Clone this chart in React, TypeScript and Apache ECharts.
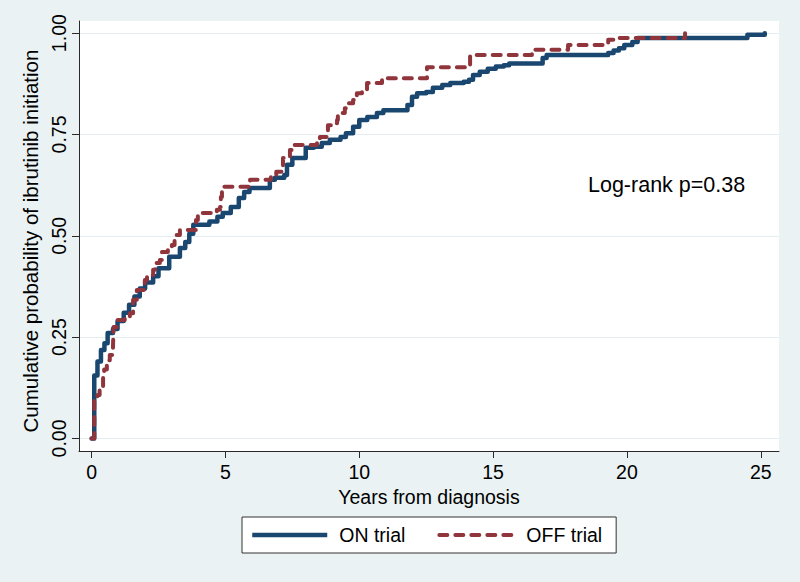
import React, { useEffect, useRef } from 'react';
import * as echarts from 'echarts';

const onTrialYears = [0, 0.1, 0.22, 0.35, 0.48, 0.6, 0.8, 0.97, 1.2, 1.4, 1.6, 1.8, 2.0, 2.3, 2.5, 2.9, 3.3, 3.5, 3.65, 3.8, 4.4, 4.7, 4.9, 5.2, 5.5, 5.7, 5.9, 6.66, 6.85, 7.2, 7.3, 7.5, 8.0, 8.3, 8.6, 8.9, 9.3, 9.5, 9.77, 10.0, 10.3, 10.66, 10.9, 11.8, 11.97, 12.16, 12.5, 12.75, 13.1, 13.4, 13.9, 14.1, 14.25, 14.5, 14.8, 15.1, 15.4, 15.6, 16.85, 17.0, 19.3, 19.5, 19.7, 19.9, 20.2, 20.4, 24.5, 25.15];
const onTrialProb = [0, 0.155, 0.19, 0.218, 0.235, 0.26, 0.27, 0.29, 0.31, 0.33, 0.35, 0.37, 0.385, 0.4, 0.42, 0.448, 0.47, 0.485, 0.505, 0.527, 0.535, 0.547, 0.556, 0.571, 0.593, 0.608, 0.618, 0.638, 0.643, 0.65, 0.675, 0.692, 0.717, 0.72, 0.729, 0.737, 0.744, 0.753, 0.769, 0.786, 0.793, 0.803, 0.81, 0.823, 0.843, 0.852, 0.855, 0.865, 0.872, 0.877, 0.88, 0.885, 0.897, 0.905, 0.912, 0.918, 0.921, 0.925, 0.939, 0.946, 0.951, 0.957, 0.963, 0.971, 0.978, 0.988, 0.996, 1.0];

const offTrialYears = [0, 0.1, 0.22, 0.3, 0.43, 0.47, 0.57, 0.68, 0.8, 0.82, 0.97, 1.24, 1.43, 1.55, 1.69, 1.99, 2.07, 2.3, 2.37, 2.55, 2.63, 2.85, 3.0, 3.1, 3.3, 3.9, 3.97, 4.68, 4.8, 4.83, 4.87, 5.92, 6.7, 6.9, 7.1, 7.15, 7.41, 7.48, 8.42, 8.53, 8.79, 8.83, 8.98, 9.17, 9.2, 9.46, 9.58, 9.77, 9.91, 10.1, 10.29, 10.85, 10.96, 12.53, 14.14, 16.45, 17.8, 19.3, 19.5, 22.17];
const offTrialProb = [0, 0.1, 0.107, 0.127, 0.152, 0.17, 0.193, 0.206, 0.226, 0.275, 0.292, 0.297, 0.309, 0.342, 0.366, 0.391, 0.403, 0.416, 0.433, 0.44, 0.46, 0.473, 0.477, 0.502, 0.514, 0.539, 0.556, 0.564, 0.571, 0.596, 0.621, 0.638, 0.65, 0.658, 0.667, 0.692, 0.712, 0.724, 0.729, 0.744, 0.753, 0.773, 0.778, 0.786, 0.803, 0.815, 0.827, 0.835, 0.852, 0.86, 0.877, 0.885, 0.889, 0.916, 0.946, 0.959, 0.971, 0.984, 0.988, 1.0];

const xTicks = [0, 5, 10, 15, 20, 25];
const yTicks = [0, 0.25, 0.5, 0.75, 1];
const seriesNames = ['ON trial', 'OFF trial'];
const annotationText = 'Log-rank p=0.38';
const xTitle = 'Years from diagnosis';
const yTitle = 'Cumulative probability of ibrutinib initiation';

const FONT = '"Liberation Sans", Arial, Helvetica, sans-serif';
const ON_COLOR = '#1a476f';
const OFF_COLOR = '#90353b';

export default function App() {
  const ref = useRef<HTMLDivElement>(null);

  useEffect(() => {
    if (!ref.current) return;
    const chart = echarts.init(ref.current, null, { renderer: 'svg' });
    const onData = onTrialYears.map((x, i) => [x, onTrialProb[i]]);
    const offData = offTrialYears.map((x, i) => [x, offTrialProb[i]]);
    const axisColor = '#2a2a2a';

    chart.setOption({
      animation: false,
      backgroundColor: '#eaf2f3',
      textStyle: { fontFamily: FONT },
      grid: {
        left: 79,
        right: 21,
        top: 21,
        bottom: 131,
        show: true,
        backgroundColor: '#ffffff',
        borderWidth: 0,
      },
      xAxis: {
        type: 'value',
        min: -0.47,
        max: 25.68,
        name: xTitle,
        nameLocation: 'middle',
        nameGap: 32,
        nameTextStyle: { fontSize: 19.5, color: '#000', fontFamily: FONT },
        axisLine: { show: true, onZero: false, lineStyle: { color: axisColor, width: 1 } },
        axisTick: { show: true, customValues: xTicks, length: 7, lineStyle: { color: axisColor, width: 1 } },
        axisLabel: { customValues: xTicks, fontSize: 19.5, color: '#000', margin: 11, fontFamily: FONT },
        splitLine: { show: false },
      },
      yAxis: {
        type: 'value',
        min: -0.031,
        max: 1.03,
        name: yTitle,
        nameLocation: 'middle',
        nameGap: 37,
        nameRotate: 90,
        nameTextStyle: { fontSize: 20.5, color: '#000', fontFamily: FONT, padding: [0, 10, 0, 0] },
        axisLine: { show: true, onZero: false, lineStyle: { color: axisColor, width: 1 } },
        axisTick: { show: true, customValues: yTicks, length: 7, lineStyle: { color: axisColor, width: 1 } },
        axisLabel: {
          customValues: yTicks,
          rotate: 90,
          fontSize: 19.5,
          color: '#000',
          margin: 10,
          fontFamily: FONT,
          formatter: (v: number) => v.toFixed(2),
        },
        splitLine: { show: true, lineStyle: { color: '#e4eef1', width: 1.2 } },
      },
      legend: {
        left: 242,
        top: 517,
        orient: 'horizontal',
        backgroundColor: '#ffffff',
        borderColor: '#333333',
        borderWidth: 1,
        borderRadius: 0,
        padding: [8, 14, 8, 8],
        itemWidth: 75,
        itemHeight: 14,
        itemGap: 32,
        textStyle: { fontSize: 19.5, color: '#000', padding: [0, 0, 0, 7], fontFamily: FONT },
        data: [
          {
            name: seriesNames[0],
            itemStyle: { opacity: 0 },
            lineStyle: { color: ON_COLOR, width: 4.5, cap: 'butt' },
          },
          {
            name: seriesNames[1],
            itemStyle: { opacity: 0 },
            lineStyle: { color: OFF_COLOR, width: 4, type: [8, 8], cap: 'round' },
          },
        ],
      },
      graphic: [
        {
          type: 'text',
          x: 588,
          y: 185,
          style: {
            text: annotationText,
            fontSize: 21.5,
            fontFamily: FONT,
            fill: '#000',
            align: 'left',
            verticalAlign: 'middle',
          },
        },
      ],
      series: [
        {
          name: seriesNames[0],
          type: 'line',
          step: 'end',
          symbol: 'none',
          data: onData,
          lineStyle: { color: ON_COLOR, width: 4.5, cap: 'round', join: 'round' },
          itemStyle: { color: ON_COLOR },
        },
        {
          name: seriesNames[1],
          type: 'line',
          step: 'end',
          symbol: 'none',
          data: offData,
          lineStyle: { color: OFF_COLOR, width: 4, type: [8, 8], cap: 'round', join: 'round' },
          itemStyle: { color: OFF_COLOR },
        },
      ],
    });

    return () => {
      chart.dispose();
    };
  }, []);

  return (
    <div
      ref={ref}
      style={{ position: 'absolute', left: 0, top: 0, width: 800, height: 582 }}
    />
  );
}
